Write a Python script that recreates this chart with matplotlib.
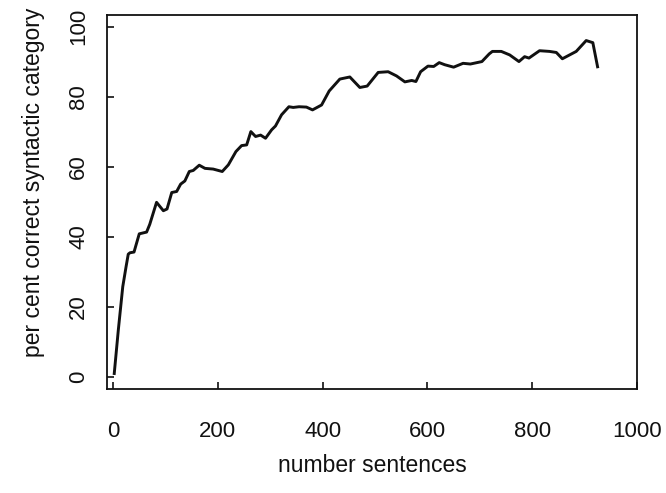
import matplotlib
matplotlib.use("Agg")
import matplotlib.pyplot as plt

plt.rcParams['font.family'] = ['Liberation Sans', 'DejaVu Sans']

# data
sentences = [2, 10, 18.5, 24.8, 29, 32.4, 40, 50, 64, 70, 83, 96, 103, 112, 121.4, 129, 137,
             145.5, 153, 164.5, 175.4, 191, 208.4, 220, 234.5, 245.3, 255, 263, 272, 281.6,
             291, 302.6, 310, 321.6, 335.6, 343.8, 355, 369, 380.7, 398, 412.5, 432.8,
             451.9, 471, 485, 506, 525, 541, 557, 570, 578, 587, 601, 612, 622.5, 633,
             650, 668, 682, 704, 718, 724, 741, 757, 774.7, 785.5, 793.8, 814, 833, 846,
             857.5, 884, 903, 915.7, 925.3]
percent_correct = [0.5, 13.3, 25.7, 31.4, 35.0, 35.4, 35.6, 40.8, 41.3, 43.5, 49.8, 47.4, 47.9,
                   52.6, 52.9, 55.0, 55.9, 58.6, 58.9, 60.4, 59.5, 59.3, 58.6, 60.5, 64.3, 66.0,
                   66.2, 70.0, 68.6, 69.0, 68.1, 70.5, 71.6, 74.8, 77.1, 76.9, 77.1, 77.0, 76.2,
                   77.6, 81.6, 85.0, 85.6, 82.6, 83.0, 86.9, 87.1, 85.9, 84.2, 84.6, 84.3, 87.1,
                   88.7, 88.6, 89.7, 89.1, 88.4, 89.5, 89.3, 90.0, 92.2, 92.9, 92.9, 91.9, 90.0,
                   91.4, 91.0, 93.1, 92.9, 92.6, 90.8, 92.9, 96.0, 95.4, 88.1]

x_ticks = [0, 200, 400, 600, 800, 1000]
y_ticks = [0, 20, 40, 60, 80, 100]

fig = plt.figure(figsize=(6.66, 4.93), dpi=100)
ax = fig.add_axes([107.3 / 666, 1 - 389.3 / 493, (637 - 107.3) / 666, (389.3 - 15) / 493])

ax.plot(sentences, percent_correct, color='#111111', linewidth=2.1, solid_joinstyle='round',
        solid_capstyle='butt')

ax.set_xlim(-11, 1000)
ax.set_ylim(-3.6, 103.3)
ax.set_xticks(x_ticks)
ax.set_yticks(y_ticks)
ax.set_xticklabels([str(v) for v in x_ticks])
ax.set_yticklabels([str(v) for v in y_ticks], rotation=90, va='center')

ax.tick_params(axis='both', direction='in', length=5, width=1.2, colors='#111111',
               labelsize=16, labelcolor='#111111')
ax.tick_params(axis='x', pad=23)
ax.tick_params(axis='y', pad=13)
ax.tick_params(top=False, right=False)

for s in ax.spines.values():
    s.set_linewidth(1.3)
    s.set_color('#111111')

ax.set_xlabel('number sentences', fontsize=16.5, color='#111111', va='center')
ax.xaxis.set_label_coords(0.5, (389.3 - 466) / 374.3)
ax.set_ylabel('per cent correct syntactic category', fontsize=16.5, color='#111111', va='center')
ax.yaxis.set_label_coords((33.5 - 107.3) / 529.7, (389.3 - 182) / 374.3)

fig.savefig('out.png', dpi=100)
